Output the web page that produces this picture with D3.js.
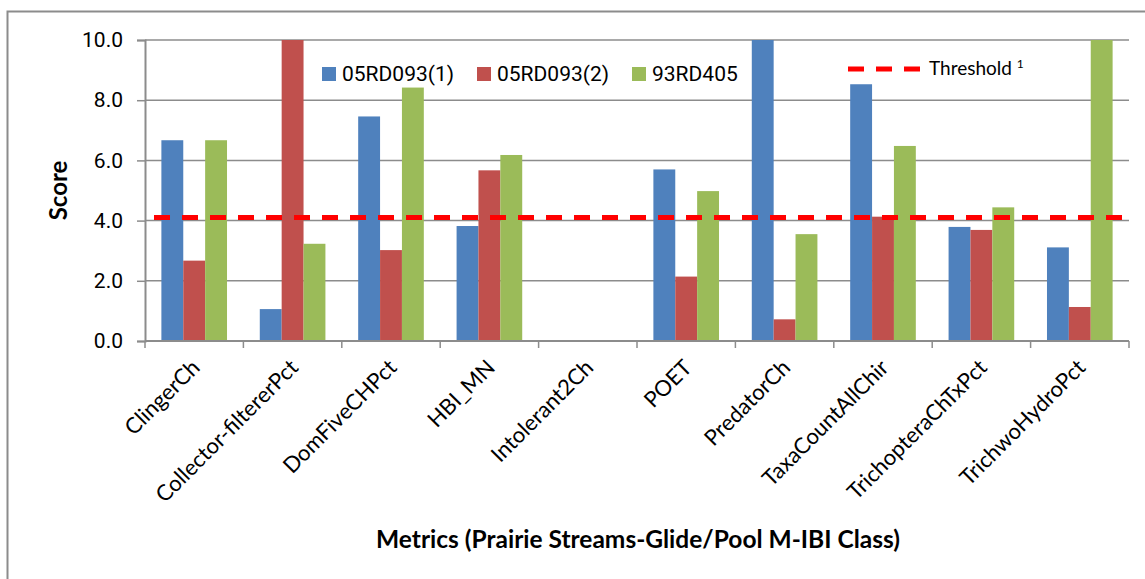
<!DOCTYPE html>
<html>
<head>
<meta charset="utf-8">
<script src="https://cdn.jsdelivr.net/npm/d3@7"></script>
<style>
  body { margin: 0; background: #fff; }
  svg { display: block; }
</style>
</head>
<body>
<svg id="chart"></svg>
<script>
// metrics on the x axis
const metrics = ['ClingerCh', 'Collector-filtererPct', 'DomFiveCHPct', 'HBI_MN', 'Intolerant2Ch',
  'POET', 'PredatorCh', 'TaxaCountAllChir', 'TrichopteraChTxPct', 'TrichwoHydroPct']

const seriesNames = ['05RD093(1)', '05RD093(2)', '93RD405']

// scores
const site1 = [6.67, 1.06, 7.46, 3.82, 0, 5.70, 10.0, 8.53, 3.79, 3.11]
const site2 = [2.67, 10.0, 3.02, 5.67, 0, 2.14, 0.72, 4.13, 3.69, 1.13]
const site3 = [6.67, 3.23, 8.42, 6.18, 0, 4.98, 3.55, 6.48, 4.44, 10.0]

const threshold = 4.1
const yTicks = [0, 2, 4, 6, 8, 10]

const colors = ['#4F81BD', '#C0504D', '#9BBB59']
const gridColor = '#8c8c8c'

const width = 1145
const height = 579
const margin = { left: 145, right: 16, top: 40, bottom: 238 }

const svg = d3.select('#chart').attr('width', width).attr('height', height)

// outer chart border (only top & left show, rest is cropped)
svg.append('path')
  .attr('d', `M7.5,${height} V11.5 H${width}`)
  .attr('fill', 'none')
  .attr('stroke', gridColor)
  .attr('stroke-width', 2)

const x = d3.scaleBand()
  .domain(metrics)
  .range([margin.left, width - margin.right])
  .paddingInner(0.333)
  .paddingOuter(0.1665)

// band used just for tick positions (category boundaries)
const xCat = d3.scaleBand().domain(metrics).range([margin.left, width - margin.right])

const xSub = d3.scaleBand().domain(seriesNames).range([0, x.bandwidth()])

const y = d3.scaleLinear().domain([0, 10]).range([height - margin.bottom, margin.top])

// gridlines
svg.append('g')
  .selectAll('line')
  .data(yTicks.filter(d => d > 0))
  .join('line')
  .attr('x1', margin.left)
  .attr('x2', width - margin.right)
  .attr('y1', d => y(d))
  .attr('y2', d => y(d))
  .attr('stroke', gridColor)
  .attr('stroke-width', 1.5)

// bars
const data = metrics.map((m, i) => ({ metric: m, values: [site1[i], site2[i], site3[i]] }))

svg.append('g')
  .selectAll('g')
  .data(data)
  .join('g')
  .attr('transform', d => `translate(${x(d.metric)},0)`)
  .selectAll('rect')
  .data(d => d.values.map((v, j) => ({ name: seriesNames[j], v, j })))
  .join('rect')
  .attr('x', d => xSub(d.name))
  .attr('width', xSub.bandwidth())
  .attr('y', d => y(d.v))
  .attr('height', d => y(0) - y(d.v))
  .attr('fill', d => colors[d.j])

// y axis
const yAxis = svg.append('g')
  .attr('transform', `translate(${margin.left},0)`)
  .call(d3.axisLeft(y).tickValues(yTicks).tickFormat(d3.format('.1f')).tickSize(8).tickPadding(14))
yAxis.select('.domain').attr('stroke', gridColor).attr('stroke-width', 2)
yAxis.selectAll('.tick line').attr('stroke', gridColor).attr('stroke-width', 1.5)
yAxis.selectAll('.tick text')
  .attr('font-family', 'Roboto')
  .attr('font-size', 21)
  .attr('fill', '#000')

// x axis
const xAxisG = svg.append('g').attr('transform', `translate(0,${y(0)})`)
xAxisG.append('line')
  .attr('x1', margin.left).attr('x2', width - margin.right)
  .attr('stroke', gridColor).attr('stroke-width', 2)
const bounds = metrics.map(m => xCat(m)).concat([width - margin.right])
xAxisG.selectAll('.tk')
  .data(bounds)
  .join('line')
  .attr('class', 'tk')
  .attr('x1', d => d).attr('x2', d => d)
  .attr('y1', 0).attr('y2', 7)
  .attr('stroke', gridColor).attr('stroke-width', 1.5)

xAxisG.selectAll('.lbl')
  .data(metrics)
  .join('text')
  .attr('class', 'lbl')
  .attr('text-anchor', 'end')
  .attr('font-family', 'Lato')
  .attr('font-size', 22)
  .attr('fill', '#000')
  .attr('transform', d => `translate(${xCat(d) + xCat.bandwidth() / 2 + 7},${28}) rotate(-45)`)
  .text(d => d)

// threshold line
svg.append('line')
  .attr('x1', margin.left + 9)
  .attr('x2', width - margin.right - 7)
  .attr('y1', y(threshold))
  .attr('y2', y(threshold))
  .attr('stroke', '#FF0000')
  .attr('stroke-width', 5)
  .attr('stroke-dasharray', '16,12')

// axis titles
svg.append('text')
  .attr('transform', `translate(67,${(y(0) + y(10)) / 2}) rotate(-90)`)
  .attr('text-anchor', 'middle')
  .attr('font-family', 'Lato')
  .attr('font-weight', 'bold')
  .attr('font-size', 24)
  .text('Score')

svg.append('text')
  .attr('x', 638)
  .attr('y', 548)
  .attr('text-anchor', 'middle')
  .attr('font-family', 'Lato')
  .attr('font-weight', 'bold')
  .attr('font-size', 24.5)
  .text('Metrics (Prairie Streams-Glide/Pool M-IBI Class)')

// legend
const legendX = [322, 477, 632]
const legend = svg.append('g')
  .selectAll('g')
  .data(seriesNames)
  .join('g')
  .attr('transform', (d, i) => `translate(${legendX[i]},67)`)
legend.append('rect')
  .attr('width', 14).attr('height', 14)
  .attr('fill', (d, i) => colors[i])
legend.append('text')
  .attr('x', 20).attr('y', 14)
  .attr('font-family', 'Roboto')
  .attr('font-size', 21)
  .attr('fill', '#000')
  .text(d => d)

svg.append('line')
  .attr('x1', 848).attr('x2', 920)
  .attr('y1', 69).attr('y2', 69)
  .attr('stroke', '#FF0000')
  .attr('stroke-width', 5)
  .attr('stroke-dasharray', '16,12')
const thr = svg.append('text')
  .attr('x', 929).attr('y', 75)
  .attr('font-family', 'Lato')
  .attr('font-size', 19)
  .attr('fill', '#000')
thr.append('tspan').text('Threshold ')
thr.append('tspan').attr('font-size', 12).attr('dy', -7).text('1')
</script>
</body>
</html>
